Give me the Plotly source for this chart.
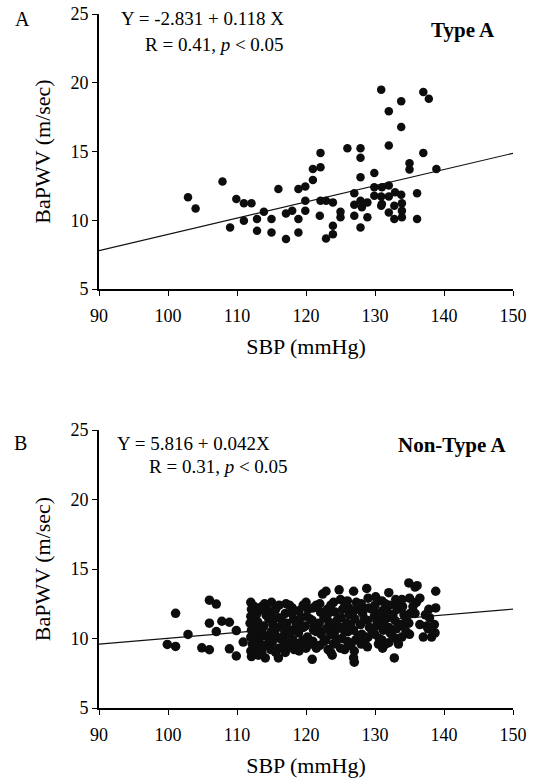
import plotly.graph_objects as go

# ---------------- data ----------------
# Panel A: Type A
a_sbp = [102.9, 104.0, 107.9, 109.0, 109.9, 111.0, 112.1, 111.0, 112.9, 112.9,
         113.9, 115.0, 115.0, 116.0, 117.1, 117.1, 118.0, 118.9, 118.9, 118.9,
         119.9, 119.9, 119.9, 121.0, 121.0, 122.1, 122.1, 122.1, 122.0, 122.9,
         122.9, 123.9, 123.9, 123.9, 125.0, 125.0, 126.0, 127.0, 127.0, 127.0,
         127.9, 127.9, 127.9, 127.9, 127.9, 128.9, 128.9, 129.9, 129.9, 129.9,
         130.9, 130.9, 130.9, 132.0, 132.0, 132.0, 132.0, 132.0, 132.8, 132.8,
         133.8, 133.8, 133.8, 133.9, 133.9, 135.0, 135.0, 136.1, 136.1, 137.0,
         137.0, 137.8, 138.9, 131.0, 132.9, 131.0, 133.9, 128.1]
a_pwv = [11.67, 10.86, 12.81, 9.48, 11.55, 11.23, 11.23, 9.96, 10.09, 9.23,
         10.62, 10.09, 9.11, 12.27, 10.50, 8.63, 10.69, 12.27, 10.09, 9.11,
         12.45, 11.42, 10.69, 12.93, 13.73, 13.86, 14.90, 11.42, 10.33, 11.42,
         8.67, 9.60, 8.99, 11.30, 10.62, 10.21, 15.24, 11.96, 11.13, 10.33,
         15.24, 14.54, 13.13, 11.42, 9.48, 11.30, 10.21, 13.44, 12.40, 11.79,
         19.50, 11.72, 11.06, 17.92, 15.44, 12.52, 11.72, 10.57, 10.09, 11.06,
         18.65, 16.78, 11.86, 11.23, 10.21, 14.15, 13.69, 11.96, 10.09, 19.33,
         14.90, 18.84, 13.73, 12.40, 12.03, 11.18, 10.69, 10.94]

# Panel B: Non-Type A
b_sbp = [99.9, 101.1, 101.1, 102.9, 104.9, 106.0, 106.0, 107.0, 106.0, 107.0,
         107.8, 108.9, 108.9, 109.9, 109.9, 110.9, 112.7,
         112.0, 112.1, 112.0, 111.9, 112.1, 112.0, 112.2, 112.0, 112.1,
         113.1, 113.0, 112.9, 113.2, 113.0, 113.1, 112.8, 113.3,
         114.0, 114.2, 113.9, 114.1, 114.0, 114.1, 114.3,
         115.0, 114.9, 115.2, 115.0, 115.1, 114.9, 115.3,
         116.1, 116.0, 115.9, 116.2, 116.0, 116.1,
         117.1, 117.0, 117.2, 116.9, 117.1, 117.0, 116.8,
         118.0, 118.2, 117.9, 118.1, 118.3, 118.0,
         119.0, 119.1, 118.9, 119.2, 119.0, 119.3,
         120.0, 120.1, 119.9, 120.2, 120.0, 120.3,
         121.0, 120.9, 121.1, 121.0, 120.9, 121.2,
         122.4, 122.0, 122.1, 121.9, 122.2, 122.0, 121.8,
         122.9, 123.1, 123.3, 123.0, 122.9, 123.2, 123.1,
         124.0, 124.2, 123.9, 124.1, 124.0, 123.8, 124.3,
         124.8, 125.0, 125.1, 124.9, 125.2, 125.0, 125.3,
         126.0, 126.2, 125.9, 126.1, 126.0, 126.3,
         126.9, 127.0, 127.1, 126.9, 127.2, 127.0, 126.9, 127.0, 127.3,
         128.0, 128.2, 127.9, 128.1, 128.0, 128.3,
         128.8, 129.0, 129.1, 128.9, 129.2, 129.0, 128.9,
         130.1, 130.0, 129.9, 130.2, 130.0, 130.5, 130.3,
         131.0, 131.1, 130.9, 131.2, 131.0, 131.1, 131.3,
         132.0, 132.1, 131.9, 132.0, 132.2, 132.0, 132.8, 131.8,
         133.0, 133.2, 132.9, 133.1, 133.0, 133.4, 133.3,
         134.9, 133.9, 134.0, 134.2, 134.0, 133.9,
         135.8, 135.0, 135.1, 134.9, 135.0,
         136.1, 136.0, 135.8,
         137.8, 137.5, 137.7, 137.0,
         138.8, 138.8, 138.2, 138.7, 138.6, 137.9,
         112.5, 112.5, 112.5, 113.6, 113.6, 113.6, 114.6, 114.6, 115.6, 115.6,
         115.6, 116.6, 116.6, 117.6, 117.6, 117.6, 118.6, 118.6, 119.6, 119.6,
         119.6, 120.6, 120.6, 121.5, 121.5, 121.5, 122.6, 122.6, 123.6, 123.6,
         123.6, 124.5, 124.5, 125.6, 125.6, 125.6, 126.5, 126.5, 127.6, 127.6,
         128.5, 128.5, 129.6, 129.6, 130.6, 130.6, 131.5, 131.5, 131.5, 132.6,
         132.6, 133.6, 133.6, 134.5, 134.5, 135.5, 136.5, 136.5, 137.3]
b_pwv = [9.57, 9.43, 11.81, 10.29, 9.33, 9.19, 12.76, 12.48, 11.10, 10.50,
         11.24, 11.17, 9.26, 8.74, 10.57, 9.74, 8.86,
         12.6, 12.1, 11.6, 11.1, 10.6, 10.1, 9.6, 9.1, 8.7,
         12.0, 11.2, 10.4, 9.8, 9.3, 8.8, 11.7, 10.1,
         12.5, 11.7, 10.9, 10.2, 9.5, 8.6, 12.1,
         12.6, 11.9, 11.0, 10.5, 9.7, 9.2, 11.4,
         12.4, 11.5, 10.8, 10.0, 8.6, 9.3,
         12.5, 11.8, 11.1, 10.3, 9.6, 9.0, 10.7,
         12.2, 11.4, 10.6, 9.9, 9.2, 11.8,
         12.0, 11.0, 10.4, 9.7, 9.1, 11.5,
         12.6, 11.6, 10.9, 10.1, 9.3, 12.1,
         12.2, 11.3, 10.6, 9.8, 8.5, 10.9,
         13.2, 12.5, 11.9, 11.1, 10.3, 9.5, 10.7,
         13.4, 12.1, 11.2, 10.7, 9.9, 9.2, 11.7,
         12.6, 11.9, 11.0, 10.2, 9.6, 8.8, 10.6,
         13.5, 12.8, 11.5, 10.8, 10.0, 9.3, 12.1,
         12.7, 12.2, 11.1, 10.5, 9.8, 11.7,
         13.4, 12.0, 11.4, 10.6, 9.9, 9.1, 8.6, 8.3, 12.6,
         12.5, 11.8, 11.0, 10.3, 9.6, 12.1,
         13.6, 12.9, 12.2, 11.3, 10.8, 10.1, 9.4,
         13.0, 12.4, 11.6, 10.9, 10.3, 9.6, 11.2,
         12.7, 12.0, 11.2, 10.6, 9.9, 9.3, 11.6,
         13.3, 12.4, 11.5, 10.8, 10.4, 9.7, 8.6, 11.9,
         12.8, 12.1, 11.3, 10.7, 10.0, 9.6, 12.4,
         14.0, 12.8, 12.3, 11.7, 10.9, 10.1,
         13.7, 12.9, 11.8, 11.1, 10.3,
         13.8, 12.6, 11.8,
         12.1, 10.9, 10.7, 10.1,
         13.4, 12.2, 10.1, 10.4, 11.0, 11.5,
         12.3, 10.9, 9.9, 12.3, 10.7, 9.0, 11.4, 10.0, 12.1, 10.2,
         9.0, 11.2, 9.9, 12.4, 10.2, 9.4, 11.0, 9.6, 12.4, 10.8,
         9.9, 11.4, 9.6, 12.4, 10.5, 9.3, 11.5, 9.8, 12.4, 10.3,
         9.0, 11.3, 9.9, 12.3, 10.5, 9.2, 11.0, 9.5, 12.3, 10.2,
         11.4, 9.8, 12.1, 10.5, 11.8, 10.0, 12.5, 10.9, 9.6, 11.7,
         10.1, 12.5, 11.0, 11.4, 10.5, 12.3, 12.9, 11.0, 11.7]

assert len(a_sbp) == len(a_pwv)
assert len(b_sbp) == len(b_pwv)

# regression coefficients (intercept, slope)
fit_a = (-2.831, 0.118)
fit_b = (5.816, 0.042)
x_range = [90, 150]
y_range = [5, 25]
x_ticks = [90, 100, 110, 120, 130, 140, 150]
y_ticks = [5, 10, 15, 20, 25]

# ---------------- layout helpers ----------------
W, H = 540, 781
FONT = "Liberation Serif, Times New Roman, serif"


def px(x):
    return x / W


def py(y):
    return 1 - y / H


fig = go.Figure()

panels = [
    dict(sbp=a_sbp, pwv=a_pwv, fit=fit_a, xa="x", ya="y", msize=8.5),
    dict(sbp=b_sbp, pwv=b_pwv, fit=fit_b, xa="x2", ya="y2", msize=9.5),
]

for p in panels:
    fig.add_trace(go.Scatter(
        x=x_range, y=[p["fit"][0] + p["fit"][1] * v for v in x_range],
        mode="lines", line=dict(color="#111111", width=1.2),
        xaxis=p["xa"], yaxis=p["ya"], showlegend=False, hoverinfo="skip"))
    fig.add_trace(go.Scatter(
        x=p["sbp"], y=p["pwv"], mode="markers",
        marker=dict(color="#0d0d0d", size=p["msize"], line=dict(width=0)),
        xaxis=p["xa"], yaxis=p["ya"], showlegend=False))

x_dom = [px(99), px(513)]
axis_common = dict(
    showgrid=False, zeroline=False, showline=True, linecolor="black",
    linewidth=1.6, ticks="outside", tickcolor="black", ticklen=5, tickwidth=1.4,
    automargin=False,
    tickfont=dict(family=FONT, size=18, color="black"),
)

xa = dict(axis_common, range=x_range, tickvals=x_ticks, domain=x_dom,
          ticklabelstandoff=5,
          title=dict(text="SBP (mmHg)", font=dict(family=FONT, size=22, color="black"), standoff=13))
ya_ = dict(axis_common, range=y_range, tickvals=y_ticks,
           title=dict(text="BaPWV (m/sec)", font=dict(family=FONT, size=22, color="black"), standoff=14))

fig.update_layout(
    width=W, height=H, autosize=False,
    margin=dict(l=0, r=0, t=0, b=0, pad=0),
    paper_bgcolor="white", plot_bgcolor="white",
    xaxis=dict(xa, anchor="y"),
    yaxis=dict(ya_, anchor="x", domain=[py(289), py(14)]),
    xaxis2=dict(xa, anchor="y2"),
    yaxis2=dict(ya_, anchor="x2", domain=[py(708), py(430)]),
)

ann = []


def text(t, x, y, size=19, xanchor="left", bold=False):
    ann.append(dict(text=("<b>%s</b>" % t) if bold else t, x=px(x), y=py(y),
                    xref="paper", yref="paper", xanchor=xanchor, yanchor="middle",
                    showarrow=False, font=dict(family=FONT, size=size, color="black")))


text("A", 13, 19, size=20)
text("Y = -2.831 + 0.118 X", 286, 19, xanchor="right")
text("R = 0.41, <i>p</i> &lt; 0.05", 286, 45, xanchor="right")
text("Type A", 497, 30, size=21, xanchor="right", bold=True)

text("B", 12, 443, size=20)
text("Y = 5.816 + 0.042X", 115, 443)
text("R = 0.31, <i>p</i> &lt; 0.05", 147, 466)
text("Non-Type A", 508, 445, size=21, xanchor="right", bold=True)

fig.update_layout(annotations=ann)

fig.write_html("out.html", config={"displayModeBar": False},
               post_script="document.body.style.margin='0px';document.body.style.overflow='hidden';")
